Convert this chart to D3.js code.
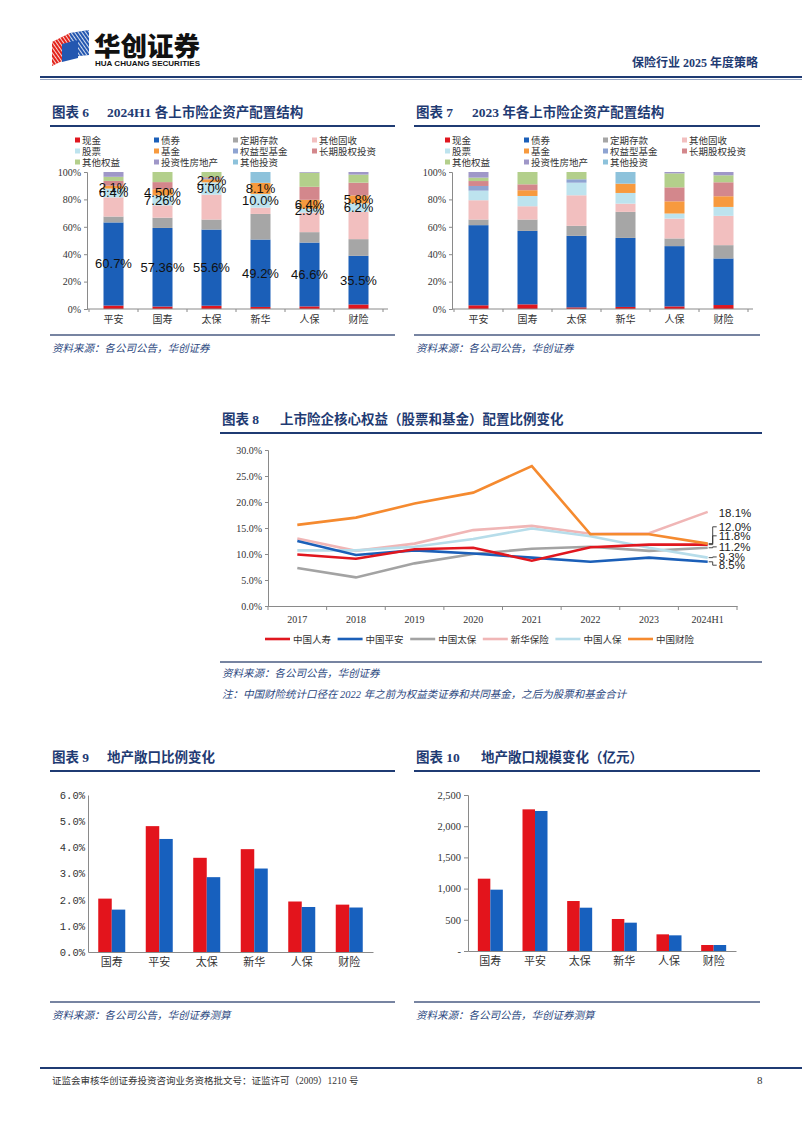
<!DOCTYPE html>
<html><head><meta charset="utf-8">
<script src="https://cdn.jsdelivr.net/npm/d3@7"></script>
<style>body{margin:0;background:#fff}svg{display:block}</style>
</head><body><svg id="c" width="802" height="1133"></svg>
<script>
// ---------------- DATA ----------------
const companies = ['平安','国寿','太保','新华','人保','财险'];
const assetKeys = ['现金','债券','定期存款','其他固收','股票','基金','权益型基金','长期股权投资','其他权益','投资性房地产','其他投资'];

// 2024H1 asset allocation (%)
const h1Cash        = [2.5, 1.8, 2.4, 1.5, 1.9, 3.3];
const h1Bond        = [60.7, 57.36, 55.6, 49.2, 46.6, 35.5];
const h1Deposit     = [4.3, 7.5, 7.3, 18.7, 7.6, 12.2];
const h1OtherFixed  = [14.0, 9.0, 18.2, 4.6, 14.3, 19.9];
const h1Stock       = [6.4, 7.26, 9.0, 10.0, 2.9, 6.2];
const h1Fund        = [2.1, 4.5, 2.2, 8.1, 6.4, 5.8];
const h1EquityFund  = [0, 0, 0.8, 0, 0, 0];
const h1LtEquity    = [3.5, 5.2, 0.7, 0, 9.5, 9.3];
const h1OtherEquity = [3.0, 7.38, 3.8, 0, 10.3, 5.9];
const h1RealEstate  = [3.5, 0, 0, 0, 0.5, 1.9];
const h1OtherInv    = [0, 0, 0, 7.9, 0, 0];
const h1BondLabels  = ['60.7%','57.36%','55.6%','49.2%','46.6%','35.5%'];
const h1StockLabels = ['6.4%','7.26%','9.0%','10.0%','2.9%','6.2%'];
const h1FundLabels  = ['2.1%','4.50%','2.2%','8.1%','6.4%','5.8%'];

// 2023 asset allocation (%)
const y23Cash        = [2.7, 3.4, 1.2, 1.5, 1.9, 2.9];
const y23Bond        = [58.5, 53.6, 52.2, 50.4, 44.0, 34.0];
const y23Deposit     = [4.1, 8.3, 7.3, 19.0, 5.6, 9.7];
const y23OtherFixed  = [14.1, 9.7, 22.3, 6.0, 14.5, 21.4];
const y23Stock       = [7.0, 7.5, 9.2, 7.8, 3.7, 6.5];
const y23Fund        = [0, 4.2, 0, 6.8, 8.9, 7.8];
const y23EquityFund  = [3.4, 0, 2.5, 0, 0, 0];
const y23LtEquity    = [3.6, 4.3, 0, 0, 10.2, 10.2];
const y23OtherEquity = [2.5, 9.0, 5.3, 0, 10.2, 5.1];
const y23RealEstate  = [4.1, 0, 0, 0, 1.0, 2.4];
const y23OtherInv    = [0, 0, 0, 8.5, 0, 0];

// Core equity ratio (%)
const years = ['2017','2018','2019','2020','2021','2022','2023','2024H1'];
const lineNames = ['中国人寿','中国平安','中国太保','新华保险','中国人保','中国财险'];
const chinaLife   = [9.9, 9.1, 10.9, 11.2, 8.7, 11.3, 11.8, 11.8];
const pingAn      = [12.5, 9.8, 10.7, 10.1, 9.3, 8.5, 9.3, 8.5];
const cpic        = [7.3, 5.5, 8.2, 10.0, 11.0, 11.4, 10.6, 11.2];
const nci         = [13.0, 10.6, 12.0, 14.6, 15.4, 13.9, 14.0, 18.1];
const picc        = [10.7, 10.7, 11.4, 12.9, 14.9, 13.4, 11.2, 9.3];
const piccPC      = [15.6, 17.0, 19.7, 21.8, 26.9, 13.8, 13.8, 12.0];
const endLabels   = ['11.8%','8.5%','11.2%','18.1%','9.3%','12.0%'];

// Real estate exposure
const reCompanies = ['国寿','平安','太保','新华','人保','财险'];
const reRatioA = [2.04, 4.81, 3.60, 3.93, 1.93, 1.81];
const reRatioB = [1.62, 4.32, 2.86, 3.19, 1.72, 1.70];
const reScaleA = [1159, 2270, 801, 513, 267, 96];
const reScaleB = [983, 2244, 694, 454, 251, 96];

// ---------------- STYLE ----------------
const assetColors = ['#E0171F','#1B5FB8','#A6A6A6','#F2BFBF','#BDE3EE','#F79A3E','#8EA4D2','#D3878C','#B3CF8B','#9F97C8','#8DC2DB'];
const lineColors = ['#E0171F','#1B5FB8','#A3A3A3','#F0B6B6','#B7DDEA','#F58A2F'];
const barRed = '#E3141C', barBlue = '#1760BE';
const navy = '#1F3B73';
const serif = "'Liberation Serif','Noto Sans CJK SC',serif";
const cjk = "'Noto Sans CJK SC',sans-serif";

const svg = d3.select('#c');
svg.append('rect').attr('width',802).attr('height',1133).attr('fill','#fff');

// ---------------- HEADER ----------------
const defs = svg.append('defs');
const pat = defs.append('pattern').attr('id','stripe').attr('width',3).attr('height',3)
  .attr('patternUnits','userSpaceOnUse').attr('patternTransform','rotate(-35)');
pat.append('rect').attr('width',1).attr('height',3).attr('fill','#fff');
const logo = svg.append('g');
logo.append('path').attr('d','M52,42 L70,33 L70,57 L52,66 Z').attr('fill','#E2231A');
logo.append('path').attr('d','M70,33 L89,30 L89,55 L70,57 Z').attr('fill','#2457B0');
logo.append('path').attr('d','M52,42 L70,33 L89,30 L89,55 L70,57 L52,66 Z').attr('fill','url(#stripe)').attr('opacity',0.8);
logo.append('path').attr('d','M62,44 L78,40 L78,58 L62,62 Z').attr('fill','#2457B0');
svg.append('text').attr('x',94).attr('y',56).text('华创证券')
  .attr('font-family',cjk).attr('font-weight',900).attr('font-size',26).attr('fill','#111')
  .attr('textLength',106).attr('lengthAdjust','spacingAndGlyphs');
svg.append('text').attr('x',95).attr('y',66).text('HUA CHUANG SECURITIES')
  .attr('font-family',"'Liberation Sans',sans-serif").attr('font-weight','bold').attr('font-size',7.5).attr('fill','#111')
  .attr('textLength',105).attr('lengthAdjust','spacingAndGlyphs');
svg.append('text').attr('x',758).attr('y',67).attr('text-anchor','end').text('保险行业 2025 年度策略')
  .attr('font-family',serif).attr('font-weight','bold').attr('font-size',12).attr('fill',navy);
svg.append('line').attr('x1',40).attr('x2',802).attr('y1',77).attr('y2',77).attr('stroke','#1F3B73').attr('stroke-width',2);
svg.append('line').attr('x1',40).attr('x2',802).attr('y1',79.5).attr('y2',79.5).attr('stroke','#9AA8C4').attr('stroke-width',1);

// ---------------- helpers ----------------
function title(x, y, num, text, x2, lineEnd) {
  svg.append('text').attr('x',x).attr('y',y).text('图表 ' + num)
    .attr('font-family',serif).attr('font-weight','bold').attr('font-size',13.5).attr('fill',navy);
  svg.append('text').attr('x',x2).attr('y',y).text(text)
    .attr('font-family',serif).attr('font-weight','bold').attr('font-size',13.5).attr('fill',navy);
  svg.append('line').attr('x1',x-2).attr('x2',lineEnd).attr('y1',y+9).attr('y2',y+9)
    .attr('stroke',navy).attr('stroke-width',1.8);
}
function source(x, y, x2, text, lineY) {
  svg.append('line').attr('x1',x-2).attr('x2',x2).attr('y1',lineY).attr('y2',lineY)
    .attr('stroke','#4A5B82').attr('stroke-width',1.6);
  svg.append('text').attr('x',x).attr('y',y).text(text)
    .attr('font-family',serif).attr('font-style','italic').attr('font-size',10.5).attr('fill','#2B4780');
}
function styleAxis(g, size) {
  g.selectAll('path.domain').attr('stroke','#8A8A8A');
  g.selectAll('.tick line').attr('stroke','#8A8A8A');
  g.selectAll('text').attr('fill','#333').attr('font-size',size || 10);
}

// ---------------- STACKED CHARTS ----------------
function stacked(cfg) {
  const g = svg.append('g');
  const rows = companies.map((c, i) => {
    const o = {company: c};
    assetKeys.forEach((k, j) => o[k] = cfg.series[j][i]);
    return o;
  });
  const layers = d3.stack().keys(assetKeys)(rows);
  const y = d3.scaleLinear([0, 100], [309, 172]);
  const x = d3.scaleBand(companies, [cfg.ax + 2, cfg.ax + 296]);
  const bw = 20;
  // legend
  assetKeys.forEach((k, i) => {
    const lx = cfg.legX + (i % 4) * 79, ly = 140 + Math.floor(i / 4) * 11;
    g.append('rect').attr('x', lx).attr('y', ly - 2.5).attr('width', 5).attr('height', 5).attr('fill', assetColors[i]);
    g.append('text').attr('x', lx + 7).attr('y', ly + 3.5).text(k)
      .attr('font-family', cjk).attr('font-size', 9.5).attr('fill', '#333');
  });
  // bars
  layers.forEach((layer, li) => {
    g.append('g').selectAll('rect').data(layer).join('rect')
      .attr('x', d => x(d.data.company) + x.bandwidth() / 2 - bw / 2)
      .attr('width', bw)
      .attr('y', d => y(d[1]))
      .attr('height', d => y(d[0]) - y(d[1]))
      .attr('fill', assetColors[li]);
  });
  // axes
  const ya = g.append('g').attr('transform', `translate(${cfg.ax},0)`)
    .call(d3.axisLeft(y).tickValues([0,20,40,60,80,100]).tickFormat(d => d + '%').tickSize(3));
  ya.selectAll('text').attr('font-family', serif);
  styleAxis(ya, 10);
  const xa = g.append('g').attr('transform', 'translate(0,309)')
    .call(d3.axisBottom(x).tickSize(0).tickPadding(7));
  xa.select('path.domain').remove();
  xa.selectAll('text').attr('font-family', cjk);
  styleAxis(xa, 10);
  g.append('line').attr('x1', cfg.ax).attr('x2', cfg.ax + 301).attr('y1', 309).attr('y2', 309).attr('stroke', '#8A8A8A');
  companies.concat(['end']).forEach((c, i) => {
    const bx = cfg.ax + 2 + i * x.step();
    g.append('line').attr('x1', bx).attr('x2', bx).attr('y1', 309).attr('y2', 312).attr('stroke', '#8A8A8A');
  });
  // labels
  if (cfg.labels) {
    const labelLayer = (idx, arr) => {
      g.append('g').selectAll('text').data(layers[idx]).join('text')
        .attr('x', d => x(d.data.company) + x.bandwidth() / 2)
        .attr('y', d => y((d[0] + d[1]) / 2) + 4.5)
        .attr('text-anchor', 'middle').text((d, i) => arr[i])
        .attr('font-family', "'Liberation Sans',Arial,sans-serif").attr('font-size', 13).attr('fill', '#111');
    };
    labelLayer(1, cfg.labels.bond);
    labelLayer(4, cfg.labels.stock);
    labelLayer(5, cfg.labels.fund);
  }
}

title(52, 117, '6', '2024H1 各上市险企资产配置结构', 107, 395);
stacked({ax: 87, legX: 75,
  series: [h1Cash,h1Bond,h1Deposit,h1OtherFixed,h1Stock,h1Fund,h1EquityFund,h1LtEquity,h1OtherEquity,h1RealEstate,h1OtherInv],
  labels: {bond: h1BondLabels, stock: h1StockLabels, fund: h1FundLabels}});
source(52, 352, 395, '资料来源：各公司公告，华创证券', 335);

title(416, 117, '7', '2023 年各上市险企资产配置结构', 472, 760);
stacked({ax: 452, legX: 445,
  series: [y23Cash,y23Bond,y23Deposit,y23OtherFixed,y23Stock,y23Fund,y23EquityFund,y23LtEquity,y23OtherEquity,y23RealEstate,y23OtherInv]});
source(416, 352, 760, '资料来源：各公司公告，华创证券', 335);

// ---------------- LINE CHART ----------------
title(222, 424, '8', '上市险企核心权益（股票和基金）配置比例变化', 280, 762);
{
  const g = svg.append('g');
  const x = d3.scaleBand(years, [268, 737]);
  const y = d3.scaleLinear([0, 30], [606, 450]);
  const ya = g.append('g').attr('transform', 'translate(268,0)')
    .call(d3.axisLeft(y).tickValues(d3.range(0, 31, 5)).tickFormat(d => d.toFixed(1) + '%').tickSize(3));
  ya.selectAll('text').attr('font-family', serif);
  styleAxis(ya, 10);
  const xa = g.append('g').attr('transform', 'translate(0,606)')
    .call(d3.axisBottom(x).tickSize(0).tickPadding(10));
  xa.selectAll('text').attr('font-family', serif);
  styleAxis(xa, 10);
  years.concat(['e']).forEach((yy, i) => {
    const bx = 268 + i * x.step();
    g.append('line').attr('x1', bx).attr('x2', bx).attr('y1', 606).attr('y2', 610).attr('stroke', '#8A8A8A');
  });
  const series = [chinaLife, pingAn, cpic, nci, picc, piccPC];
  const order = [2, 3, 4, 1, 0, 5];
  const line = d3.line().x((d, i) => x(years[i]) + x.bandwidth() / 2).y(d => y(d));
  order.forEach(i => {
    g.append('path').datum(series[i]).attr('d', line).attr('fill', 'none')
      .attr('stroke', lineColors[i]).attr('stroke-width', 2.6).attr('stroke-linejoin', 'miter');
  });
  // end labels
  const ex = x(years[years.length - 1]) + x.bandwidth() / 2;
  const labelShift = [-8.8, 3.4, -0.9, 0.8, -0.7, -16.8];
  series.forEach((s, i) => {
    const vy = y(s[s.length - 1]);
    const ly = vy + labelShift[i];
    if (i !== 3) {
      g.append('path').attr('d', `M${ex + 1},${vy} L${ex + 5},${vy} L${ex + 5},${ly} L${ex + 9},${ly}`)
        .attr('fill', 'none').attr('stroke', '#333').attr('stroke-width', 0.9);
    }
    g.append('text').attr('x', ex + 11).attr('y', ly + 4).text(endLabels[i])
      .attr('font-family', "'Liberation Sans',Arial,sans-serif").attr('font-size', 11.5).attr('fill', '#222');
  });
  // legend
  lineNames.forEach((n, i) => {
    const lx = 265 + i * 72.6;
    g.append('line').attr('x1', lx).attr('x2', lx + 25).attr('y1', 639).attr('y2', 639)
      .attr('stroke', lineColors[i]).attr('stroke-width', 2.6);
    g.append('text').attr('x', lx + 28).attr('y', 642.5).text(n)
      .attr('font-family', cjk).attr('font-size', 9.5).attr('fill', '#333');
  });
}
source(222, 677, 762, '资料来源：各公司公告，华创证券', 662);
svg.append('text').attr('x', 222).attr('y', 698).text('注：中国财险统计口径在 2022 年之前为权益类证券和共同基金，之后为股票和基金合计')
  .attr('font-family', serif).attr('font-style', 'italic').attr('font-size', 10.5).attr('fill', '#2B4780');

// ---------------- GROUPED BARS ----------------
function grouped(cfg) {
  const g = svg.append('g');
  const x = d3.scaleBand(reCompanies, [cfg.ax, cfg.ax + cfg.w]);
  const y = d3.scaleLinear([0, cfg.max], [cfg.y0, 795]);
  const sub = d3.scaleBand(['a', 'b'], [0, cfg.bw * 2]);
  const ya = g.append('g').attr('transform', `translate(${cfg.ax},0)`)
    .call(d3.axisLeft(y).tickValues(cfg.ticks).tickFormat(cfg.fmt).tickSize(cfg.tick));
  ya.selectAll('text').attr('font-family', cfg.font);
  styleAxis(ya, 10.5);
  const xa = g.append('g').attr('transform', `translate(0,${cfg.y0})`)
    .call(d3.axisBottom(x).tickSize(0).tickPadding(6));
  xa.selectAll('text').attr('font-family', cjk);
  styleAxis(xa, 11);
  [[cfg.a, barRed, 'a'], [cfg.b, barBlue, 'b']].forEach(([vals, col, k]) => {
    g.append('g').selectAll('rect').data(vals).join('rect')
      .attr('x', (d, i) => x(reCompanies[i]) + x.bandwidth() / 2 - cfg.bw + sub(k))
      .attr('width', sub.bandwidth())
      .attr('y', d => y(d)).attr('height', d => cfg.y0 - y(d)).attr('fill', col);
  });
}
title(52, 762, '9', '地产敞口比例变化', 107, 395);
grouped({ax: 88, w: 285, y0: 952, max: 6, bw: 13.5, a: reRatioA, b: reRatioB,
  ticks: d3.range(0, 7), fmt: d => d.toFixed(1) + '%', font: "'Liberation Mono',monospace", tick: 0});
source(52, 1019, 395, '资料来源：各公司公告，华创证券测算', 1002);

title(416, 762, '10', '地产敞口规模变化（亿元）', 481, 760);
grouped({ax: 468, w: 268, y0: 951, max: 2500, bw: 12.5, a: reScaleA, b: reScaleB,
  ticks: d3.range(0, 2501, 500), fmt: d => d === 0 ? '-' : d3.format(',')(d), font: serif, tick: 4});
source(416, 1019, 760, '资料来源：各公司公告，华创证券测算', 1002);

// ---------------- FOOTER ----------------
svg.append('line').attr('x1', 40).attr('x2', 802).attr('y1', 1068).attr('y2', 1068).attr('stroke', '#1F3B73').attr('stroke-width', 2);
svg.append('text').attr('x', 52).attr('y', 1084).text('证监会审核华创证券投资咨询业务资格批文号：证监许可（2009）1210 号')
  .attr('font-family', serif).attr('font-size', 9.5).attr('fill', '#333');
svg.append('text').attr('x', 757).attr('y', 1084).text('8')
  .attr('font-family', serif).attr('font-size', 11).attr('fill', '#333');
</script></body></html>
